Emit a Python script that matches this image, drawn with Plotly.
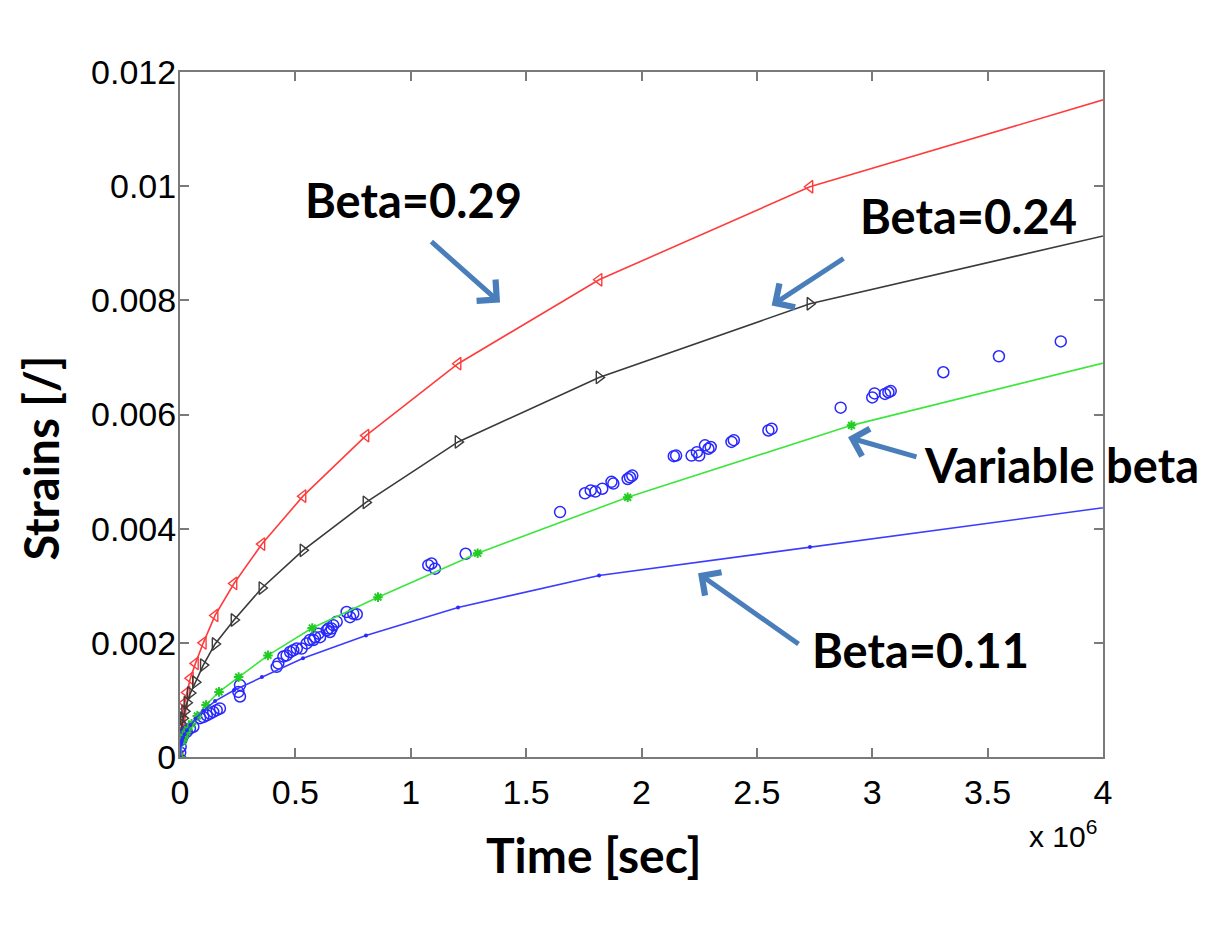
import plotly.graph_objects as go

# ---------------- data (time in units of 1e6 s) ----------------
t_beta = [0, 0.004, 0.006, 0.009, 0.013, 0.020, 0.030, 0.045, 0.067, 0.101,
          0.152, 0.234, 0.355, 0.533, 0.806, 1.205, 1.816, 2.73, 4.10]
strain_029 = [0, 0.00045, 0.00055, 0.00066, 0.0008, 0.00095, 0.00113, 0.00138, 0.00164, 0.0020,
              0.00248, 0.00304, 0.00373, 0.00457, 0.00563, 0.00689, 0.00836, 0.00999, 0.01163]
strain_024 = [0, 0.0004, 0.00048, 0.00057, 0.00068, 0.0008, 0.00095, 0.00112, 0.00131, 0.00161,
              0.00198, 0.0024, 0.00296, 0.00362, 0.00446, 0.00552, 0.00665, 0.00794, 0.00922]
strain_011 = [0, 0.00022, 0.00026, 0.0003, 0.00034, 0.0004, 0.00047, 0.00056, 0.00067, 0.00081,
              0.00098, 0.00117, 0.0014, 0.00173, 0.00213, 0.00262, 0.00318, 0.00368, 0.00442]

t_var = [0, 0.010, 0.015, 0.022, 0.033, 0.050, 0.075, 0.113, 0.169, 0.254, 0.381,
         0.573, 0.858, 1.29, 1.94, 2.91, 4.37]
strain_var = [0, 0.00028, 0.00033, 0.0004, 0.00048, 0.00058, 0.00072, 0.00091, 0.00114, 0.0014,
              0.00178, 0.00226, 0.0028, 0.00357, 0.00455, 0.00581, 0.00727]

t_exp = [3.817, 3.549, 3.308, 3.07, 3.08, 3.055, 3.01, 3.0, 2.863, 2.564, 2.55, 2.40, 2.39,
         2.29, 2.275, 2.30, 2.217, 2.24, 2.25, 2.14, 2.15, 1.95, 1.96, 1.94, 1.878, 1.87, 1.83,
         1.78, 1.755, 1.80, 1.647, 1.238, 1.076, 1.09, 1.105, 0.722, 0.751, 0.766, 0.737,
         0.679, 0.664, 0.657, 0.643, 0.636, 0.65, 0.6, 0.607, 0.585, 0.578, 0.563, 0.549,
         0.527, 0.506, 0.491, 0.477, 0.462, 0.448, 0.426, 0.419, 0.26, 0.253, 0.26, 0.173,
         0.159, 0.144, 0.13, 0.116, 0.101, 0.087, 0.058, 0.043, 0.029, 0.014, 0.006, 0.003, 0.001]
strain_exp = [0.00728, 0.00702, 0.00674, 0.00639, 0.00641, 0.00636, 0.00637, 0.0063, 0.00612,
              0.00575, 0.00572, 0.00555, 0.00552, 0.0054, 0.00546, 0.00543, 0.00528, 0.00534,
              0.00528, 0.00527, 0.00528, 0.0049, 0.00493, 0.00487, 0.00479, 0.00482, 0.0047,
              0.00467, 0.00462, 0.00465, 0.00429, 0.00356, 0.00336, 0.00339, 0.0033, 0.00254,
              0.00251, 0.0025, 0.00245, 0.00237, 0.00231, 0.00225, 0.00225, 0.00222, 0.00219,
              0.00216, 0.0021, 0.0021, 0.00205, 0.00205, 0.00199, 0.0019, 0.0019, 0.00187,
              0.00184, 0.00178, 0.00176, 0.00164, 0.00158, 0.00126, 0.00114, 0.00106, 0.00085,
              0.00082, 0.00079, 0.00076, 0.00073, 0.0007, 0.00068, 0.00053, 0.0005, 0.00044,
              0.00038, 0.0003, 0.00018, 0.00008]

x_tick_vals = [0, 0.5, 1, 1.5, 2, 2.5, 3, 3.5, 4]
x_tick_text = ["0", "0.5", "1", "1.5", "2", "2.5", "3", "3.5", "4"]
y_tick_vals = [0, 0.002, 0.004, 0.006, 0.008, 0.01, 0.012]
y_tick_text = ["0", "0.002", "0.004", "0.006", "0.008", "0.01", "0.012"]

labels = ["Beta=0.29", "Beta=0.24", "Variable beta", "Beta=0.11"]
SCALE = 1e6

def sec(ts):
    return [v * SCALE for v in ts]

fig = go.Figure()

fig.add_trace(go.Scatter(x=sec(t_beta), y=strain_029, mode="lines+markers",
                         line=dict(color="#ff3c3c", width=1.6),
                         marker=dict(symbol="triangle-left-open", size=11, color="#ff3c3c",
                                     line=dict(width=1.4, color="#ff3c3c")),
                         showlegend=False))
fig.add_trace(go.Scatter(x=sec(t_beta), y=strain_024, mode="lines+markers",
                         line=dict(color="#3a3a3a", width=1.6),
                         marker=dict(symbol="triangle-right-open", size=11, color="#3a3a3a",
                                     line=dict(width=1.4, color="#3a3a3a")),
                         showlegend=False))
fig.add_trace(go.Scatter(x=sec(t_exp), y=strain_exp, mode="markers",
                         marker=dict(symbol="circle-open", size=11, color="#2828ff",
                                     line=dict(width=1.5, color="#2828ff")),
                         showlegend=False))
fig.add_trace(go.Scatter(x=sec(t_var), y=strain_var, mode="lines+markers",
                         line=dict(color="#3ce63c", width=1.6),
                         marker=dict(symbol="asterisk-open", size=8, color="#22cc22",
                                     line=dict(width=2, color="#22cc22")),
                         showlegend=False))
fig.add_trace(go.Scatter(x=sec(t_beta), y=strain_011, mode="lines+markers",
                         line=dict(color="#3c3cff", width=1.6),
                         marker=dict(symbol="circle", size=4, color="#2a2aff"),
                         showlegend=False))

arrow_color = "#4a7ebb"
# text labels (centers) and arrows (head, tail) in data units
label_pos = [(1.01, 0.00975), (3.415, 0.00948), (3.822, 0.00511), (3.211, 0.00187)]
arrow_heads = [(1.387, 0.00796), (2.564, 0.00791), (2.895, 0.0056), (2.245, 0.00322)]
arrow_tails = [(1.083, 0.00905), (2.882, 0.00875), (3.198, 0.00525), (2.687, 0.00196)]

annotations = []
for lab, (lx, ly) in zip(labels, label_pos):
    annotations.append(dict(x=lx * SCALE, y=ly, xref="x", yref="y", text=lab, showarrow=False,
                            font=dict(family="Lato", size=47, color="black", weight="bold"),
                            xanchor="center", yanchor="middle"))
for (hx, hy), (tx, ty) in zip(arrow_heads, arrow_tails):
    annotations.append(dict(x=hx * SCALE, y=hy, ax=tx * SCALE, ay=ty, xref="x", yref="y",
                            axref="x", ayref="y", text="", showarrow=True,
                            arrowhead=4, arrowsize=1.1, arrowwidth=5, arrowcolor=arrow_color))

annotations.append(dict(x=-0.151, y=0.4365, xref="paper", yref="paper", text="Strains [/]",
                        textangle=-90, showarrow=False,
                        font=dict(family="Lato", size=47, color="black", weight="bold"),
                        xanchor="center", yanchor="middle"))
annotations.append(dict(x=0.4485, y=-0.143, xref="paper", yref="paper", text="Time [sec]",
                        showarrow=False,
                        font=dict(family="Lato", size=48, color="black", weight="bold"),
                        xanchor="center", yanchor="middle"))
annotations.append(dict(x=0.957, y=-0.112, xref="paper", yref="paper", text="x 10<sup>6</sup>",
                        showarrow=False,
                        font=dict(family="Liberation Sans", size=30, color="black"),
                        xanchor="center", yanchor="middle"))

axis_common = dict(showline=True, linecolor="#7a7a7a", linewidth=2, mirror="ticks",
                   ticks="inside", ticklen=9, tickwidth=1.5, tickcolor="#7a7a7a",
                   showgrid=False, zeroline=False,
                   tickfont=dict(family="Liberation Sans", size=34, color="black"))

fig.update_layout(
    width=1200, height=934,
    margin=dict(l=172, r=105, t=64, b=185),
    paper_bgcolor="white", plot_bgcolor="white",
    xaxis=dict(range=[0, 4 * SCALE], tickvals=[v * SCALE for v in x_tick_vals],
               ticktext=x_tick_text, ticklabelstandoff=4, **axis_common),
    yaxis=dict(range=[0, 0.012], tickvals=y_tick_vals, ticktext=y_tick_text,
               ticklabelstandoff=-5, **axis_common),
    annotations=annotations,
)

fig.write_html("out.html")
